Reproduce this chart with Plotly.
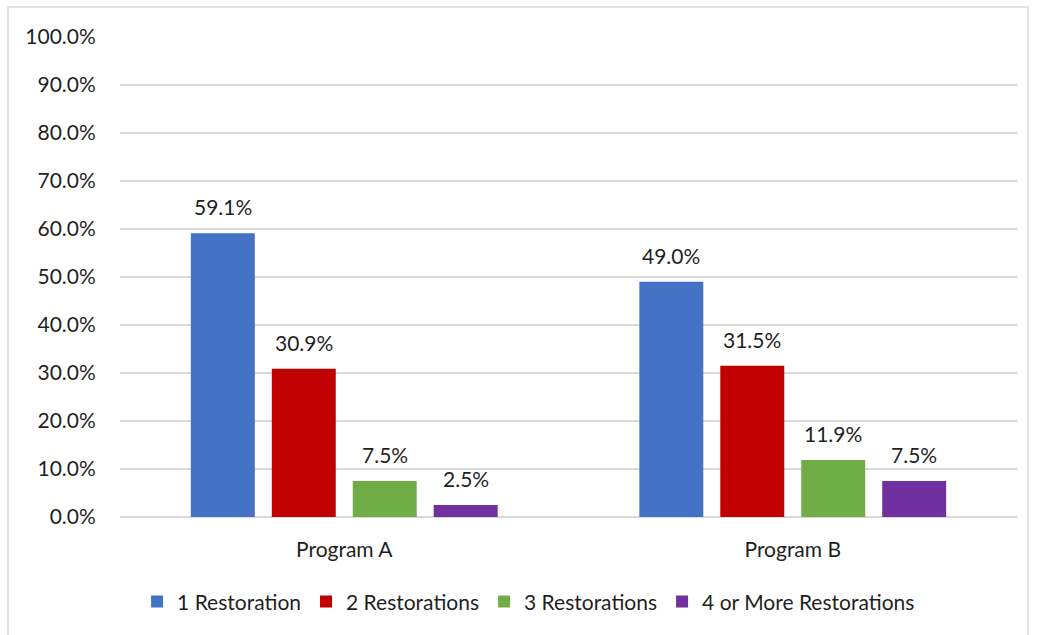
import plotly.graph_objects as go

categories = ["Program A", "Program B"]
series_names = ["1 Restoration", "2 Restorations", "3 Restorations", "4 or More Restorations"]
series_values = [
    [59.1, 49.0],
    [30.9, 31.5],
    [7.5, 11.9],
    [2.5, 7.5],
]
colors = ["#4472C4", "#C00000", "#70AD47", "#7030A0"]
y_ticks = [0, 10, 20, 30, 40, 50, 60, 70, 80, 90, 100]
y_tick_labels = [f"{v:.1f}%" for v in y_ticks]

FONT = "Lato, 'Open Sans', sans-serif"
TXT = "#1F1F1F"
FS = 21

fig = go.Figure()
for name, vals, col in zip(series_names, series_values, colors):
    fig.add_trace(go.Bar(
        x=categories, y=vals, name=name, marker=dict(color=col, line=dict(width=0)),
    ))

# data labels above bars
n = len(series_names)
slot_px = 81
for i, vals in enumerate(series_values):
    for c, v in zip(categories, vals):
        fig.add_annotation(
            x=c, y=v, xref="x", yref="y", text=f"{v:.1f}%", showarrow=False,
            xshift=(i - (n - 1) / 2) * slot_px, yanchor="bottom", yshift=12,
            font=dict(family=FONT, size=FS, color=TXT),
        )

fig.add_shape(
    type="rect", xref="paper", yref="paper",
    x0=-0.1249, x1=1.0123, y0=-0.27, y1=1.0625,
    line=dict(color="#D9D9D9", width=1.5), fillcolor="rgba(0,0,0,0)", layer="below",
)

fig.update_layout(
    width=1037, height=635,
    margin=dict(l=120, r=20, t=37, b=118, autoexpand=False),
    paper_bgcolor="white", plot_bgcolor="white",
    barmode="group", bargap=0.278, bargroupgap=0.21,
    font=dict(family=FONT, size=FS, color=TXT),
    showlegend=True,
    legend=dict(
        orientation="h", x=0.4555, xanchor="center", y=-0.134, yanchor="top",
        font=dict(family=FONT, size=FS, color=TXT),
        itemwidth=30, traceorder="normal",
    ),
    xaxis=dict(
        showgrid=False, showline=False, ticks="outside", ticklen=14,
        tickcolor="rgba(0,0,0,0)", tickfont=dict(size=FS),
    ),
    yaxis=dict(
        range=[0, 100], tickvals=y_ticks, ticktext=y_tick_labels,
        showgrid=True, gridcolor="#D9D9D9", gridwidth=1.5,
        zeroline=True, zerolinecolor="#D9D9D9", zerolinewidth=1.5,
        showline=False, ticks="outside", ticklen=19, tickcolor="rgba(0,0,0,0)",
        tickfont=dict(size=FS),
    ),
)

fig.write_html("out.html")
